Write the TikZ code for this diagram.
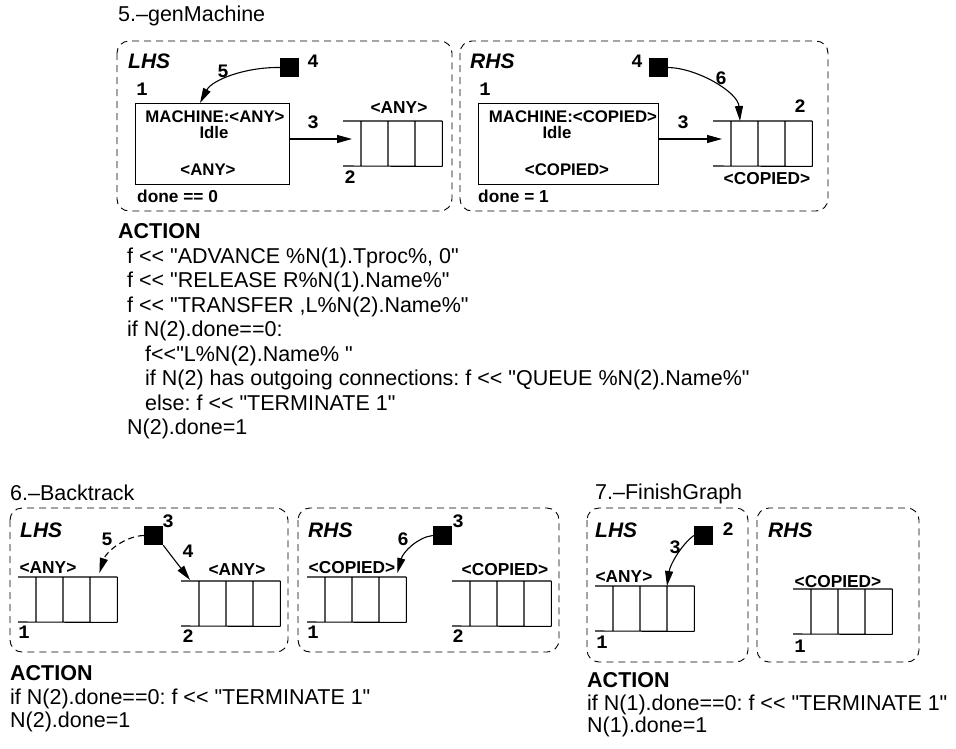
\documentclass[tikz,border=0pt]{standalone}
\usepackage{fontspec}
\setmainfont{Liberation Sans}[Ligatures=TeXOff]
\newfontfamily\monof{Liberation Mono}
\usetikzlibrary{arrows.meta}
\frenchspacing
\tikzset{
 panel/.style={draw=black, line width=0.9pt, dash pattern=on 7pt off 5pt, rounded corners=12pt},
 sqnode/.style={fill=black, draw=none, minimum size=19pt, inner sep=0pt},
 mbox/.style={draw, line width=1.1pt, inner sep=0pt, anchor=north west},
 arr/.style={line width=1.1pt, -{Triangle[length=15pt,width=8pt]}},
 qcell/.style={inner sep=0pt, minimum width=81pt, minimum height=45pt, anchor=north west},
 txt/.style={anchor=base west, inner sep=0pt, font=\fontsize{21.5}{24}\selectfont},
 head/.style={anchor=base west, inner sep=0pt, font=\fontsize{21.5}{24}\selectfont\bfseries},
 side/.style={anchor=base west, inner sep=0pt, font=\fontsize{21}{24}\selectfont\bfseries\itshape},
 lab/.style={anchor=base, inner sep=0pt, font=\fontsize{16.8}{18}\selectfont\bfseries},
 qlab/.style={anchor=base, inner sep=0pt, font=\fontsize{17.3}{18}\selectfont\bfseries},
 wlab/.style={anchor=base west, inner sep=0pt, font=\fontsize{17.3}{18}\selectfont\bfseries},
 num/.style={anchor=base, inner sep=0pt, font=\fontsize{19}{19}\selectfont\monof\bfseries},
}
\newcommand\myqueue[3]{%
 \node[qcell] (#1) at ({#2+18},#3) {};
 \draw[line width=1.1pt] (#2,#3) -- (#1.north east) (#2,{#3+45}) -- (#1.south east)
   (#1.north west) -- (#1.south west)
   ([xshift=27pt]#1.north west) -- ([xshift=27pt]#1.south west)
   ([xshift=54pt]#1.north west) -- ([xshift=54pt]#1.south west)
   (#1.north east) -- (#1.south east);
}
\begin{document}
\begin{tikzpicture}[x=1pt,y=-1pt]
\useasboundingbox (0,0) rectangle (956,748);
% ---------- 5. genMachine ----------
\node[txt] (title5) at (118,21) {5.–genMachine};
\draw[panel] (117,41) rectangle (452,211);
\draw[panel] (460,41) rectangle (828,211);
% LHS
\node[side] (lhs5) at (128,68) {LHS};
\node[sqnode] (s5L) at (289.5,67.5) {};
\node[num] (n5L4) at (313,67) {4};
\node[num] (n5L5) at (223,77) {5};
\node[num] (n5L1) at (142,95) {1};
\node[mbox, minimum width=154pt, minimum height=81pt] (m5L) at (135,103) {};
\node[lab] (m5La) at (215,122) {MACHINE:<ANY>};
\node[lab] (m5Lb) at (214,138) {Idle};
\node[lab] (m5Lc) at (208,175) {<ANY>};
\node[wlab] (d5L) at (137,202) {done == 0};
\myqueue{q5L}{343}{121}
\node[qlab] (q5La) at (399,113) {<ANY>};
\node[num] (n5L2) at (350,183) {2};
\node[num] (n5L3) at (313,128) {3};
\coordinate (q5Lin) at (352,139);
\draw[arr] (m5L.east |- q5Lin) -- (q5Lin);
\draw[arr] (s5L.west) .. controls (245,67) and (212,80) .. ([xshift=65pt]m5L.north west);
% RHS
\node[side] (rhs5) at (470,68) {RHS};
\node[sqnode] (s5R) at (658.5,67.5) {};
\node[num] (n5R4) at (637,67) {4};
\node[num] (n5R6) at (721,84) {6};
\node[num] (n5R1) at (485,95) {1};
\node[mbox, minimum width=180pt, minimum height=81pt] (m5R) at (478,103) {};
\node[lab] (m5Ra) at (573,122) {MACHINE:<COPIED>};
\node[lab] (m5Rb) at (557,138) {Idle};
\node[lab] (m5Rc) at (567,175) {<COPIED>};
\node[wlab] (d5R) at (478,202) {done = 1};
\myqueue{q5R}{713}{121}
\node[num] (n5R2) at (800,112) {2};
\node[qlab] (q5Ra) at (767,184) {<COPIED>};
\node[num] (n5R3) at (683,128) {3};
\coordinate (q5Rin) at (722,139);
\draw[arr] (m5R.east |- q5Rin) -- (q5Rin);
\draw[arr] (s5R.east) .. controls (697,68) and (738,92) .. ([xshift=9pt]q5R.north west);
% action
\node[head] (act5) at (118,238) {ACTION};
\node[txt] (a51) at (127,263) {f << "ADVANCE \%N(1).Tproc\%, 0"};
\node[txt] (a52) at (127,287.5) {f << "RELEASE R\%N(1).Name\%"};
\node[txt] (a53) at (127,312) {f << "TRANSFER ,L\%N(2).Name\%"};
\node[txt] (a54) at (127,336.5) {if N(2).done==0:};
\node[txt] (a55) at (145,361) {f<<"L\%N(2).Name\% "};
\node[txt] (a56) at (145,385.5) {if N(2) has outgoing connections: f << "QUEUE \%N(2).Name\%"};
\node[txt] (a57) at (145,410) {else: f << "TERMINATE 1"};
\node[txt] (a58) at (127,434.5) {N(2).done=1};
% ---------- 6. Backtrack ----------
\node[txt] (title6) at (10,500) {6.–Backtrack};
\draw[panel] (10,508) rectangle (288,652);
\draw[panel] (298,508) rectangle (559,652);
\node[side] (lhs6) at (20,537) {LHS};
\node[sqnode] (s6L) at (153.5,535.5) {};
\node[num] (n6L3) at (168,527) {3};
\node[num] (n6L5) at (107,545) {5};
\node[num] (n6L4) at (188,557) {4};
\myqueue{q6La}{18}{577}
\node[qlab] (q6Lal) at (48,573) {<ANY>};
\node[num] (n6L1) at (24,638) {1};
\myqueue{q6Lb}{181}{581}
\node[qlab] (q6Lbl) at (237,575) {<ANY>};
\node[num] (n6L2) at (188,642) {2};
\draw[arr, dash pattern=on 6pt off 4pt] (s6L.west) .. controls (125,536) and (106,552) .. ([xshift=-18pt,yshift=4pt]q6La.north east);
\draw[arr] (s6L.south east) -- ([xshift=-9pt,yshift=1pt]q6Lb.north west);
\node[side] (rhs6) at (308,537) {RHS};
\node[sqnode] (s6R) at (442.5,535.5) {};
\node[num] (n6R3) at (458,527) {3};
\node[num] (n6R6) at (403,545) {6};
\myqueue{q6Ra}{307}{577}
\node[qlab] (q6Ral) at (352,573) {<COPIED>};
\node[num] (n6R1) at (313,638) {1};
\myqueue{q6Rb}{452}{581}
\node[qlab] (q6Rbl) at (505,575) {<COPIED>};
\node[num] (n6R2) at (458,642) {2};
\draw[arr] (s6R.west) .. controls (418,537) and (403,552) .. ([xshift=-9pt,yshift=4pt]q6Ra.north east);
\node[head] (act6) at (10,680) {ACTION};
\node[txt] (a61) at (10,704) {if N(2).done==0: f << "TERMINATE 1"};
\node[txt] (a62) at (10,727) {N(2).done=1};
% ---------- 7. FinishGraph ----------
\node[txt] (title7) at (595,499) {7.–FinishGraph};
\draw[panel] (587,508) rectangle (748,662);
\draw[panel] (757,508) rectangle (919,662);
\node[side] (lhs7) at (595,537) {LHS};
\node[sqnode] (s7L) at (703.5,535.5) {};
\node[num] (n7L2) at (728,535) {2};
\node[num] (n7L3) at (675,553) {3};
\myqueue{q7L}{595}{586}
\node[qlab] (q7Ll) at (624,582) {<ANY>};
\node[num] (n7L1) at (602,648) {1};
\draw[arr] (s7L.west) .. controls (681,545) and (670,565) .. ([xshift=54pt]q7L.north west);
\node[side] (rhs7) at (768,537) {RHS};
\myqueue{q7R}{793}{589}
\node[qlab] (q7Rl) at (838,587) {<COPIED>};
\node[num] (n7R1) at (800,652) {1};
\node[head] (act7) at (587,687) {ACTION};
\node[txt] (a71) at (587,710) {if N(1).done==0: f << "TERMINATE 1"};
\node[txt] (a72) at (587,732) {N(1).done=1};
\end{tikzpicture}
\end{document}
